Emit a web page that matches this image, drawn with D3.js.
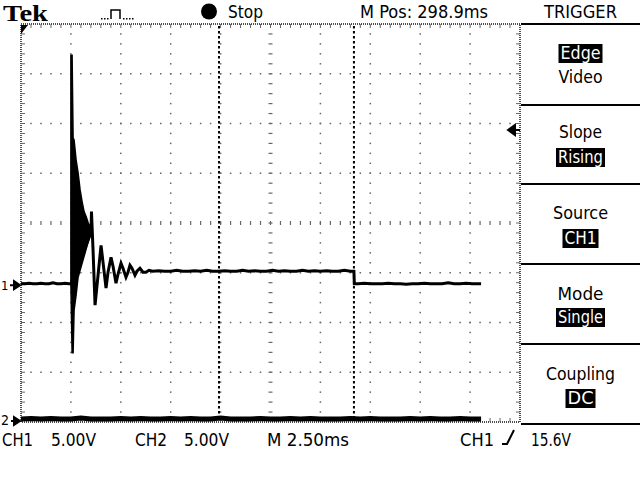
<!DOCTYPE html>
<html><head><meta charset="utf-8">
<script src="https://cdn.jsdelivr.net/npm/d3@7"></script>
<style>
body{margin:0;background:#fff}
svg{display:block}
text{font-family:"Liberation Sans Narrow","DejaVu Sans Condensed","Liberation Sans",sans-serif;fill:#000}
</style></head><body>
<svg id="c" width="640" height="480"></svg>
<script>
// ---- data (ms, volts) ----
const ch1Time = [0,0.2,0.4,0.6,0.8,1.0,1.2,1.4,1.6,1.8,2.0,2.2,2.4,2.5,
  3.51,3.53,3.61,3.71,3.86,4.01,4.11,4.26,4.36,4.51,4.61,4.76,4.86,5.01,5.11,5.26,5.36,5.46,5.56,5.71,5.81,5.96,6.11,6.26,6.41,
  6.6,6.9,7.2,7.5,7.8,8.1,8.4,8.7,9.0,9.3,9.6,9.9,10.2,10.5,10.8,11.1,11.4,11.7,12.0,12.3,12.6,12.9,13.2,13.5,13.8,14.1,14.4,14.7,15.0,15.3,15.6,15.9,16.2,16.5,16.68,
  16.70,16.9,17.2,17.5,17.8,18.1,18.4,18.7,19.0,19.3,19.6,19.9,20.2,20.5,20.8,21.1,21.4,21.7,22.0,22.3,22.6,22.9,23.05];
const ch1Volts = [0.15,0.15,0.2,0.15,0.15,0.2,0.15,0.15,0.25,0.15,0.15,0.2,0.15,0.15,
  5.3,7.4,3.5,-2.0,1.0,4.0,2.3,-0.3,1.3,2.8,1.9,0.2,1.1,2.2,1.7,0.8,1.3,2.0,1.7,1.0,1.4,1.7,1.3,1.3,1.5,
  1.4,1.45,1.4,1.4,1.5,1.4,1.4,1.45,1.4,1.5,1.4,1.4,1.45,1.4,1.4,1.5,1.4,1.45,1.4,1.4,1.5,1.4,1.45,1.4,1.4,1.5,1.4,1.45,1.4,1.45,1.4,1.4,1.5,1.4,1.4,
  0.15,0.15,0.2,0.15,0.15,0.15,0.2,0.15,0.15,0.1,0.15,0.15,0.2,0.15,0.15,0.15,0.25,0.15,0.15,0.2,0.15,0.15,0.15];
// burst envelope (aliased high-frequency ringing)
const burstTime = [2.50,2.56,2.61,2.66,2.76,2.86,2.96,3.06,3.16,3.26,3.36,3.46,3.51];
const burstHigh = [23.1,23.1,14.8,14.6,12.6,11.3,9.6,8.4,7.4,6.9,6.3,5.9,5.3];
const burstLow  = [0.1,-6.8,-6.8,-2.5,-1.0,0.8,1.5,2.2,2.9,3.6,4.3,5.0,5.3];
const ch2Time = [0,0.5,1.0,1.5,2.0,2.5,3.0,3.5,4.0,4.5,5.0,5.5,6.0,6.5,7.0,7.5,8.0,8.5,9.0,9.5,10.0,10.5,11.0,11.5,12.0,12.5,13.0,13.5,14.0,14.5,15.0,15.5,16.0,16.5,17.0,17.5,18.0,18.5,19.0,19.5,20.0,20.5,21.0,21.5,22.0,22.5,23.05];
const ch2Volts = [0.2,0.25,0.2,0.25,0.2,0.2,0.3,0.2,0.2,0.2,0.25,0.2,0.25,0.2,0.2,0.25,0.2,0.25,0.2,0.2,0.3,0.2,0.2,0.2,0.25,0.2,0.2,0.25,0.2,0.25,0.2,0.2,0.2,0.25,0.2,0.25,0.2,0.2,0.2,0.25,0.2,0.25,0.2,0.2,0.25,0.2,0.2];
const cursorTimes = [9.92, 16.68];
const triggerLevel = 15.6;
const headerLabels = ["Tek", "Stop", "M Pos: 298.9ms", "TRIGGER"];
const menuLabels = [["Edge","Video"],["Slope","Rising"],["Source","CH1"],["Mode","Single"],["Coupling","DC"]];
const menuHighlight = [[true,false],[false,true],[false,true],[false,true],[false,true]];
const footerLabels = ["CH1","5.00V","CH2","5.00V","M 2.50ms","CH1","15.6V"];

// ---- scales ----
const x = d3.scaleLinear().domain([0,25]).range([21,520]);
const y1 = d3.scaleLinear().domain([-13.75,26.25]).range([422,24]);
const y2 = d3.scaleLinear().domain([-0.1,39.9]).range([422,24]);
const svg = d3.select("#c");

// ---- graticule ----
const g = svg.append("g");
const divT = d3.range(0,25.001,2.5);
const divV = d3.range(-13.75,26.26,5);
const subT = d3.range(0,25.001,0.5);
const subV = d3.range(-13.75,26.26,1);
const dotCol = "#666";
divT.slice(1,-1).forEach(t=>{
  if (Math.abs(t-12.5)<1e-6) return;
  subV.slice(1,-1).forEach(v=>{
    g.append("rect").attr("x",x(t)-0.75).attr("y",y1(v)-0.75).attr("width",1.5).attr("height",1.5).attr("fill",dotCol);
  });
});
divV.slice(1,-1).forEach(v=>{
  if (Math.abs(v-6.25)<1e-6) return;
  subT.slice(1,-1).forEach(t=>{
    g.append("rect").attr("x",x(t)-0.75).attr("y",y1(v)-0.75).attr("width",1.5).attr("height",1.5).attr("fill",dotCol);
  });
});
// center cross with ticks
subV.slice(1,-1).forEach(v=>{
  g.append("line").attr("x1",x(12.5)-2).attr("x2",x(12.5)+2).attr("y1",y1(v)).attr("y2",y1(v)).attr("stroke",dotCol).attr("stroke-width",1.2);
});
subT.slice(1,-1).forEach(t=>{
  g.append("line").attr("x1",x(t)).attr("x2",x(t)).attr("y1",y1(6.25)-2).attr("y2",y1(6.25)+2).attr("stroke",dotCol).attr("stroke-width",1.2);
});
// border (dithered look)
g.append("rect").attr("x",x(0)).attr("y",y1(26.25)).attr("width",x(25)-x(0)).attr("height",y1(-13.75)-y1(26.25))
  .attr("fill","none").attr("stroke","#000").attr("stroke-width",2).attr("stroke-dasharray","1,1").attr("opacity",0.7);
subV.slice(1,-1).forEach(v=>{
  g.append("line").attr("x1",x(0)).attr("x2",x(0)+4).attr("y1",y1(v)).attr("y2",y1(v)).attr("stroke",dotCol).attr("stroke-width",1);
  g.append("line").attr("x1",x(25)-4).attr("x2",x(25)).attr("y1",y1(v)).attr("y2",y1(v)).attr("stroke",dotCol).attr("stroke-width",1);
});
subT.slice(1,-1).forEach(t=>{
  g.append("line").attr("x1",x(t)).attr("x2",x(t)).attr("y1",y1(26.25)).attr("y2",y1(26.25)+4).attr("stroke",dotCol).attr("stroke-width",1);
  g.append("line").attr("x1",x(t)).attr("x2",x(t)).attr("y1",y1(-13.75)-4).attr("y2",y1(-13.75)).attr("stroke",dotCol).attr("stroke-width",1);
});
// cursors
cursorTimes.forEach(t=>{
  g.append("line").attr("x1",x(t)).attr("x2",x(t)).attr("y1",y1(26.25)+2).attr("y2",y1(-13.75)-1)
   .attr("stroke","#000").attr("stroke-width",2).attr("stroke-dasharray","2.5,2.5");
});
// top-left corner marker
svg.append("path").attr("d",`M${x(0)},${y1(26.25)+1} L${x(0)+7},${y1(26.25)+1} L${x(0)},${y1(26.25)+10} Z`).attr("fill","#000");

// ---- traces ----
const ch1 = ch1Time.map((t,i)=>[t,ch1Volts[i]]);
const ch2 = ch2Time.map((t,i)=>[t,ch2Volts[i]]);
const burst = burstTime.map((t,i)=>({t,hi:burstHigh[i],lo:burstLow[i]}));
svg.append("path").datum(ch2).attr("fill","none").attr("stroke","#000").attr("stroke-width",5)
  .attr("d",d3.line().x(d=>x(d[0])).y(d=>y2(d[1])));
svg.append("path").datum(burst).attr("fill","#000").attr("stroke","#000").attr("stroke-width",1.5)
  .attr("d",d3.area().x(d=>x(d.t)).y0(d=>y1(d.lo)).y1(d=>y1(d.hi)));
svg.append("path").datum(ch1).attr("fill","none").attr("stroke","#000").attr("stroke-width",3).attr("stroke-linejoin","miter")
  .attr("d",d3.line().x(d=>x(d[0])).y(d=>y1(d[1])));

// channel ground markers
svg.append("text").attr("x",1).attr("y",y1(0)+5).attr("font-size",13).text("1");
svg.append("path").attr("d",`M10,${y1(0)} L15,${y1(0)} M14,${y1(0)-4} L20,${y1(0)} L14,${y1(0)+4} Z`).attr("stroke","#000").attr("stroke-width",2).attr("fill","#000");
svg.append("text").attr("x",1).attr("y",y2(0)+4).attr("font-size",14).text("2");
svg.append("path").attr("d",`M11,${y2(0)} L15,${y2(0)} M14,${y2(0)-4} L20,${y2(0)} L14,${y2(0)+4} Z`).attr("stroke","#000").attr("stroke-width",2).attr("fill","#000");
// trigger level arrow
const ty = y1(triggerLevel);
svg.append("path").attr("d",`M508,${ty} L515,${ty-5} L515,${ty+5} Z M514,${ty} L520,${ty}`).attr("fill","#000").attr("stroke","#000").attr("stroke-width",2);

// ---- header ----
svg.append("text").attr("x",3).attr("y",21).attr("font-weight","bold")
  .attr("font-size",23).attr("textLength",45).attr("lengthAdjust","spacingAndGlyphs").style("font-family","'Liberation Serif',serif").text(headerLabels[0]);
// pulse icon
svg.append("path").attr("d","M111,19 L111,10 L120,10 L120,19").attr("fill","none").attr("stroke","#000").attr("stroke-width",1.5);
[101,104,107,123,126,129,132].forEach(px=>svg.append("rect").attr("x",px).attr("y",18).attr("width",1.5).attr("height",1.5).attr("fill","#000"));
svg.append("circle").attr("cx",209).attr("cy",11.5).attr("r",8).attr("fill","#000");
svg.append("text").attr("x",228).attr("y",18).attr("font-size",17).attr("textLength",35).attr("lengthAdjust","spacingAndGlyphs").text(headerLabels[1]);
svg.append("text").attr("x",360).attr("y",18).attr("font-size",17).attr("textLength",128).attr("lengthAdjust","spacingAndGlyphs").text(headerLabels[2]);
svg.append("text").attr("x",544).attr("y",18).attr("font-size",17).attr("textLength",73).attr("lengthAdjust","spacingAndGlyphs").text(headerLabels[3]);

// ---- menu ----
[24,105,184,264,344,424].forEach(yy=>svg.append("line").attr("x1",521).attr("x2",640).attr("y1",yy).attr("y2",yy).attr("stroke","#000").attr("stroke-width",2));
const menuTop = [[59,83],[138,163],[219,244],[300,323],[380,404]];
const menuLen = [[40,44],[43,45],[55,32],[46,45],[69,26]];
menuLabels.forEach((pair,i)=>{
  pair.forEach((lab,j)=>{
    const base = menuTop[i][j], len = menuLen[i][j], cx = 580.5;
    if (menuHighlight[i][j]) {
      svg.append("rect").attr("x",cx-len/2-2).attr("y",base-15).attr("width",len+4).attr("height",19).attr("fill","#000");
    }
    svg.append("text").attr("x",cx).attr("y",base).attr("text-anchor","middle").attr("font-size",17)
      .attr("textLength",len).attr("lengthAdjust","spacingAndGlyphs")
      .style("fill",menuHighlight[i][j]?"#fff":"#000").text(lab);
  });
});

// ---- footer ----
const footX = [2,51,135,184,267,460,531];
const footLen = [31,45,32,45,82,34,40];
footerLabels.forEach((lab,i)=>{
  svg.append("text").attr("x",footX[i]).attr("y",446).attr("font-size",18)
    .attr("textLength",footLen[i]).attr("lengthAdjust","spacingAndGlyphs").text(lab);
});
svg.append("path").attr("d","M502,444 L507,444 L514,430").attr("fill","none").attr("stroke","#000").attr("stroke-width",2);
</script></body></html>
